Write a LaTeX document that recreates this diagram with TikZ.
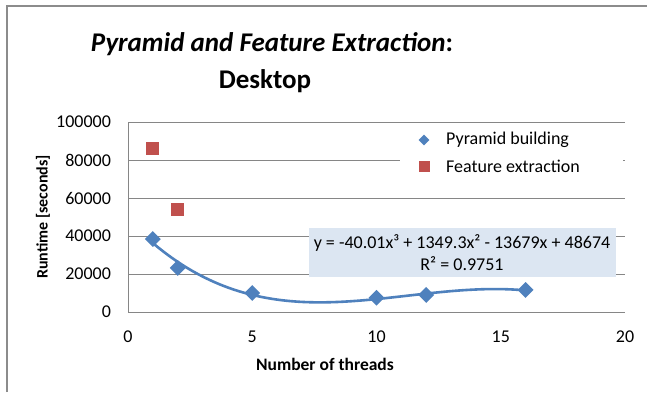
\documentclass[tikz,border=0pt]{standalone}
\usepackage{fontspec}
\setmainfont{Carlito}
\usetikzlibrary{shapes.geometric}
\definecolor{pyr}{HTML}{4F81BD}
\definecolor{feat}{HTML}{C0504D}
\definecolor{gridgray}{HTML}{868686}
\definecolor{framegray}{HTML}{8C8C8C}
\definecolor{eqfill}{HTML}{DCE6F2}
\tikzset{
  pyrmark/.style={diamond, fill=pyr, inner sep=0pt, minimum width=16pt, minimum height=16pt},
  featmark/.style={rectangle, fill=feat, inner sep=0pt, minimum size=13pt},
  ticklab/.style={font=\fontsize{18}{18}\selectfont, inner sep=0pt},
  ylabstyle/.style={font=\fontsize{16}{16}\selectfont\bfseries, inner sep=0pt},
  xlabstyle/.style={font=\fontsize{17.5}{17.5}\selectfont\bfseries, inner sep=0pt},
  legtext/.style={font=\fontsize{18}{18}\selectfont, inner sep=0pt, anchor=west},
  gridline/.style={gridgray, line width=0.9pt},
  trend/.style={pyr, line width=2.6pt, line cap=round},
  titletext/.style={font=\fontsize{27}{27}\selectfont\bfseries, inner sep=0pt, anchor=base}
}
\begin{document}
\begin{tikzpicture}[x=1pt,y=-1pt]
\useasboundingbox (0,0) rectangle (647,392);
\fill[white] (0,0) rectangle (647,392);
\draw[framegray, line width=1.6pt] (7,392) -- (7,6) -- (647,6);
% title
\node[titletext] (t1) at (272,51) {\itshape Pyramid and Feature Extraction\upshape:};
\node[titletext] (t2) at (265,88) {Desktop};
% plot
\begin{scope}[shift={(128,312)}, x=24.85pt, y=1.9pt]
  \foreach \v in {0,20,40,60,80,100}
    \draw[gridline] (0,\v) -- (20,\v);
  \draw[gridline] (0,0) -- (0,100);
  \foreach \v/\l in {0/0,20/20000,40/40000,60/60000,80/80000,100/100000}
    \node[ticklab, anchor=east] (yt\v) at (-0.68,\v) {\l};
  \foreach \x in {0,5,10,15,20}
    \node[ticklab] (xt\x) at (\x,-13.2) {\x};
\end{scope}
% legend
\fill[white] (400,127) rectangle (623,182);
\node[diamond, fill=pyr, inner sep=0pt, minimum width=11pt, minimum height=11pt] (lp) at (424,140) {};
\node[legtext] (lpt) at (446,140) {Pyramid building};
\node[rectangle, fill=feat, inner sep=0pt, minimum size=11pt] (lf) at (424,166) {};
\node[legtext] (lft) at (446,166) {Feature extraction};
% equation box
\node[fill=eqfill, minimum width=307pt, minimum height=49pt, inner sep=0pt] (eq) at (462.5,252.5) {};
\node[legtext, anchor=center] (eq1) at (462,243) {y = -40.01x³ + 1349.3x² - 13679x + 48674};
\node[legtext, anchor=center] (eq2) at (462,264) {R² = 0.9751};
\begin{scope}[shift={(128,312)}, x=24.85pt, y=1.9pt]
  \draw[trend] plot[domain=1:16, samples=80, smooth] (\x, {-0.04001*\x*\x*\x + 1.3493*\x*\x - 13.679*\x + 48.674});
  \node[featmark] (f1) at (1,85.8) {};
  \node[featmark] (f2) at (2,53.8) {};
  \node[pyrmark] (p1) at (1,38.4) {};
  \node[pyrmark] (p2) at (2,23.2) {};
  \node[pyrmark] (p5) at (5,10.0) {};
  \node[pyrmark] (p10) at (10,7.5) {};
  \node[pyrmark] (p12) at (12,9.0) {};
  \node[pyrmark] (p16) at (16,11.6) {};
\end{scope}
% axis labels
\node[ylabstyle, rotate=90] (ylab) at (43,217) {Runtime [seconds]};
\node[xlabstyle] (xlab) at (325,364) {Number of threads};
\end{tikzpicture}
\end{document}
